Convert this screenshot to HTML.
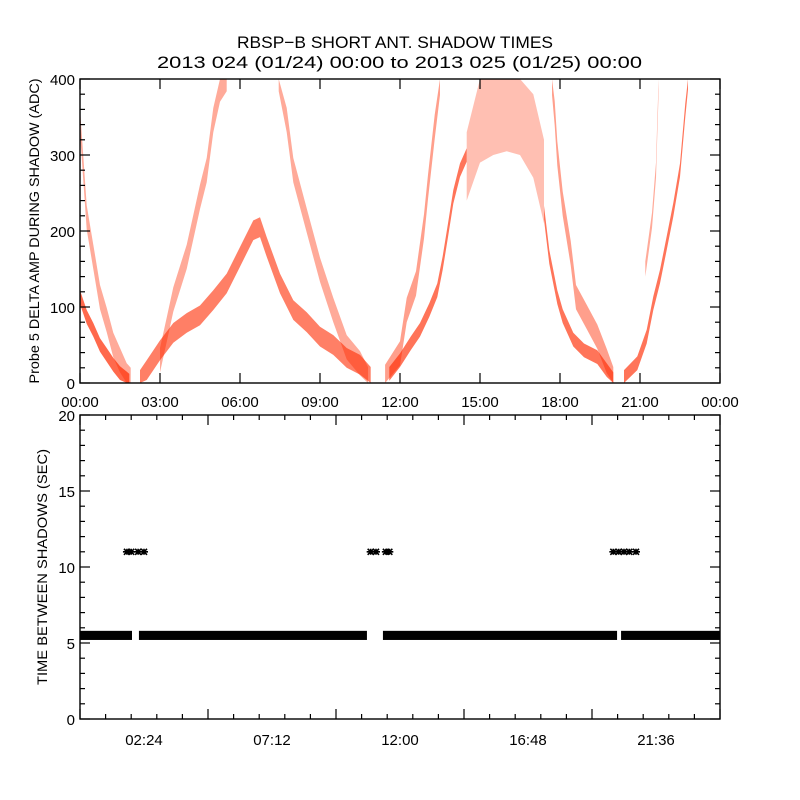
<!DOCTYPE html>
<html><head><meta charset="utf-8"><style>
html,body{margin:0;padding:0;background:#fff}
svg{display:block}
text{font-family:"Liberation Sans",sans-serif;fill:#000}
</style></head><body>
<svg id="chart" width="800" height="800" viewBox="0 0 800 800" xmlns="http://www.w3.org/2000/svg">
<rect width="800" height="800" fill="#fff"/>
<text x="237" y="48" font-size="17" textLength="316" lengthAdjust="spacingAndGlyphs">RBSP−B SHORT ANT. SHADOW TIMES</text>
<text x="157" y="68" font-size="17" textLength="485" lengthAdjust="spacingAndGlyphs">2013 024 (01/24) 00:00 to 2013 025 (01/25) 00:00</text>
<text transform="translate(39,231) rotate(-90)" text-anchor="middle" font-size="14" textLength="305" lengthAdjust="spacingAndGlyphs">Probe 5 DELTA AMP DURING SHADOW (ADC)</text>
<text transform="translate(47,567) rotate(-90)" text-anchor="middle" font-size="14" textLength="236" lengthAdjust="spacingAndGlyphs">TIME BETWEEN SHADOWS (SEC)</text>
<g id="top-marks"></g>
<g id="bot-marks"></g>
<g id="axes"></g>
</svg>
<script>
const a1Hours=[0,0.25,0.5,0.75,1,1.25,1.5,1.75,1.9];
const a1Vals=[345,218,166,113,83,50,30,10,4];
const a2Hours=[0,0.25,0.5,0.75,1,1.25,1.5,1.75,1.85];
const a2Vals=[113,87,70,50,37,24,13,6,3];
const bHours=[2.25,2.5,3,3.5,4,4.5,5,5.5,6,6.5,6.75,7,7.5,8,8.5,9,9.5,10,10.5,10.9];
const bVals=[4,17,43,66,79,89,109,131,166,201,205,179,131,96,80,61,50,33,24,8];
const c1Hours=[3,3.25,3.5,4,4.25,4.5,4.75,5,5.25,5.5];
const c1Vals=[30,70,110,166,205,245,280,346,386,400];
const c2Hours=[7.45,7.75,8,8.5,9,9.5,10,10.5,10.8];
const c2Vals=[400,346,280,214,149,96,47,26,5];
const d1Hours=[11.44,12,12.25,12.6,12.9,13.05,13.3,13.5];
const d1Vals=[8,39,96,131,206,258,337,395];
const d2Hours=[11.6,12,12.4,12.75,13.1,13.4,13.6,13.8,14,14.25,14.5];
const d2Vals=[12,30,52,70,96,122,158,201,245,280,300];
const cloudHours=[14.5,15,15.5,16,16.5,17,17.4];
const cloudLow=[240,290,300,305,300,270,210];
const cloudHigh=[330,400,400,400,400,380,320];
const e1Hours=[17.4,17.6,17.9,18.1,18.5,18.9,19.4,19.75,20];
const e1Vals=[224,166,113,88,57,43,34,17,5];
const e2Hours=[17.7,17.8,17.9,18.1,18.4,18.6,19,19.4,19.75,20];
const e2Vals=[395,355,302,236,171,113,87,61,29,5];
const f1Hours=[20.4,20.9,21.25,21.5,21.75,22,22.25,22.5,22.7,22.8];
const f1Vals=[8,26,61,105,140,184,228,280,359,395];
const f2Hours=[21.2,21.45,21.6,21.65,21.7];
const f2Vals=[150,214,280,337,395];
const denseSpread=9;
const sparseSpread=16;
const bandStart=[0,2.21,11.36,20.29];
const bandEnd=[1.95,10.76,20.14,24];
const bandValue=5.5;
const starHours=[1.76,1.92,2.18,2.4,10.9,11.1,11.47,11.6,20.0,20.2,20.4,20.6,20.85];
const starValue=11;
const topXTicks=["00:00","03:00","06:00","09:00","12:00","15:00","18:00","21:00","00:00"];
const topYTicks=[0,100,200,300,400];
const botXTicks=["02:24","07:12","12:00","16:48","21:36"];
const botYTicks=[0,5,10,15,20];

const NS="http://www.w3.org/2000/svg";
const L=80,R=720,T1=79,B1=383,T2=415,B2=719;
const xs=h=>L+(h/24)*(R-L);
const y1=v=>B1-(Math.max(0,Math.min(400,v))/400)*(B1-T1);
const y2=v=>B2-(v/20)*(B2-T2);
function mk(tag,attrs,parent){const e=document.createElementNS(NS,tag);for(const k in attrs)e.setAttribute(k,attrs[k]);parent.appendChild(e);return e;}
const topG=document.getElementById('top-marks');
const botG=document.getElementById('bot-marks');
const axG=document.getElementById('axes');

function band(hours,lows,highs,opacity,name){
  const up=hours.map((h,i)=>xs(h).toFixed(1)+','+y1(highs[i]).toFixed(1));
  const dn=hours.map((h,i)=>xs(h).toFixed(1)+','+y1(lows[i]).toFixed(1)).reverse();
  const p=mk('polygon',{points:up.concat(dn).join(' '),fill:'#ff2a00','fill-opacity':opacity},topG);
  
  
}
function branch(hours,vals,s,op,name){band(hours,vals.map(v=>v-s),vals.map(v=>v+s),op,name);}
branch(a1Hours,a1Vals,sparseSpread,0.4,'branch-a-upper');
branch(a2Hours,a2Vals,denseSpread,0.7,'branch-a-lower');
branch(bHours,bVals,denseSpread+4,0.6,'branch-b-arch');
branch(c1Hours,c1Vals,sparseSpread,0.4,'branch-c-rising');
branch(c2Hours,c2Vals,sparseSpread,0.4,'branch-c-falling');
branch(d1Hours,d1Vals,sparseSpread,0.45,'branch-d-upper');
branch(d2Hours,d2Vals,denseSpread,0.65,'branch-d-lower');
band(cloudHours,cloudLow,cloudHigh,0.3,'branch-cloud');
branch(e1Hours,e1Vals,denseSpread,0.65,'branch-e-lower');
branch(e2Hours,e2Vals,sparseSpread,0.45,'branch-e-upper');
branch(f1Hours,f1Vals,denseSpread,0.65,'branch-f-lower');
branch(f2Hours,f2Vals,sparseSpread-6,0.4,'branch-f-upper');

for(let i=0;i<bandStart.length;i++){
  const r=mk('rect',{x:xs(bandStart[i]),y:y2(bandValue+0.3),width:xs(bandEnd[i])-xs(bandStart[i]),height:y2(bandValue-0.3)-y2(bandValue+0.3),fill:'#000'},botG);
  
  
}
starHours.forEach(h=>{
  const cx=xs(h),cy=y2(starValue);
  const g=mk('path',{d:`M${cx-4},${cy}H${cx+4}M${cx},${cy-3}V${cy+3}M${cx-3},${cy-3}L${cx+3},${cy+3}M${cx-3},${cy+3}L${cx+3},${cy-3}`,stroke:'#000','stroke-width':1.6,fill:'none'},botG);
  
  
});

function line(xa,ya,xb,yb){mk('line',{x1:xa,y1:ya,x2:xb,y2:yb,stroke:'#000','stroke-width':1.2},axG);}
function txt(x,y,s,anchor,name){const t=mk('text',{x:x,y:y,'text-anchor':anchor,'font-size':15},axG);t.textContent=s;}
[[T1,B1],[T2,B2]].forEach(([t,b])=>{const r=mk('rect',{x:L,y:t,width:R-L,height:b-t,fill:'none',stroke:'#000','stroke-width':1.4},axG);});
topXTicks.forEach((s,i)=>{const x=xs(i*3);line(x,B1,x,B1-10);line(x,T1,x,T1+10);txt(x,407,s,'middle','top-x-tick-label');});
for(let v=0;v<=400;v+=20){const y=y1(v),len=v%100===0?10:5;line(L,y,L+len,y);line(R,y,R-len,y);}
topYTicks.forEach(v=>txt(75,y1(v)+6,String(v),'end','top-y-tick-label'));
for(let k=0;k<=25;k++){const x=xs(k*0.96),len=k%5===0?10:5;if(x>R)break;line(x,B2,x,B2-len);line(x,T2,x,T2+len);}
botXTicks.forEach((s,i)=>txt(xs(2.4+i*4.8),745,s,'middle','bottom-x-tick-label'));
for(let v=0;v<=20;v++){const y=y2(v),len=v%5===0?10:5;line(L,y,L+len,y);line(R,y,R-len,y);}
botYTicks.forEach(v=>txt(75,y2(v)+6,String(v),'end','bottom-y-tick-label'));
</script>
</body></html>
